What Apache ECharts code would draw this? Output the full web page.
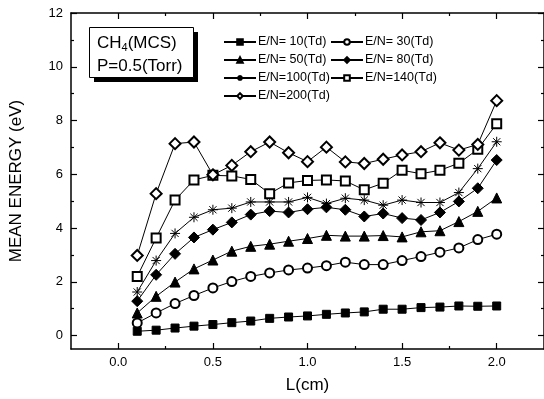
<!DOCTYPE html>
<html>
<head>
<meta charset="utf-8">
<script src="https://cdn.jsdelivr.net/npm/echarts@6/dist/echarts.min.js"></script>
<style>
  html, body { margin: 0; padding: 0; background: #fff; }
  #main { width: 544px; height: 399px; }
</style>
</head>
<body>
<div id="main"></div>
<script>
var L = [0.1, 0.2, 0.3, 0.4, 0.5, 0.6, 0.7, 0.8, 0.9, 1.0, 1.1, 1.2, 1.3, 1.4, 1.5, 1.6, 1.7, 1.8, 1.9, 2.0];
var en10 = [0.16, 0.20, 0.28, 0.35, 0.41, 0.48, 0.54, 0.64, 0.69, 0.73, 0.79, 0.84, 0.88, 0.98, 0.98, 1.04, 1.06, 1.10, 1.09, 1.10];
var en30 = [0.47, 0.84, 1.19, 1.49, 1.77, 2.01, 2.20, 2.33, 2.44, 2.51, 2.60, 2.73, 2.64, 2.64, 2.79, 2.94, 3.10, 3.26, 3.57, 3.77];
var en50 = [0.84, 1.46, 1.99, 2.48, 2.81, 3.14, 3.32, 3.40, 3.51, 3.61, 3.73, 3.70, 3.70, 3.72, 3.67, 3.86, 3.90, 4.24, 4.62, 5.12];
var en80 = [1.28, 2.26, 3.04, 3.65, 3.94, 4.21, 4.50, 4.63, 4.58, 4.70, 4.77, 4.68, 4.43, 4.54, 4.37, 4.30, 4.58, 4.99, 5.48, 6.53];
var en100 = [1.62, 2.79, 3.80, 4.40, 4.68, 4.74, 4.97, 4.97, 4.97, 5.14, 4.91, 5.11, 5.04, 4.85, 5.04, 4.95, 4.95, 5.32, 6.21, 7.21];
var en140 = [2.20, 3.63, 5.04, 5.79, 5.96, 5.94, 5.81, 5.28, 5.68, 5.77, 5.79, 5.75, 5.42, 5.67, 6.15, 6.02, 6.15, 6.41, 6.93, 7.88];
var en200 = [2.98, 5.28, 7.14, 7.20, 5.98, 6.33, 6.84, 7.20, 6.80, 6.47, 7.01, 6.46, 6.40, 6.56, 6.72, 6.84, 7.17, 6.90, 7.11, 8.74];

var xMajor = [0, 0.5, 1.0, 1.5, 2.0];
var xMinor = [0.25, 0.75, 1.25, 1.75];
var yMajor = [0, 2, 4, 6, 8, 10, 12];
var yMinor = [1, 3, 5, 7, 9, 11];

var chart = echarts.init(document.getElementById('main'));
var font = 'Arial, "Liberation Sans", sans-serif';
var star = 'path://M0,-5L0,5M-5,0L5,0M-3.6,-3.6L3.6,3.6M-3.6,3.6L3.6,-3.6';

function pairs(ys) {
  return L.map(function (x, i) { return [x, ys[i]]; });
}

function mkSeries(name, ys, symbol, size) {
  return {
    name: name,
    type: 'line',
    data: pairs(ys),
    symbol: symbol,
    symbolSize: size,
    xAxisIndex: 0,
    yAxisIndex: 0,
    lineStyle: { color: '#000', width: 1 },
    itemStyle: { color: '#000', borderColor: '#000', borderWidth: 1 },
    emphasis: { disabled: true },
    animation: false
  };
}

function xAx(pos, ticks, len, line, labels) {
  return {
    type: 'value', position: pos, min: -0.25, max: 2.25,
    axisLine: { show: line, onZero: false, lineStyle: { color: '#000', width: 1.5 } },
    axisTick: { show: true, inside: true, length: len, customValues: ticks, lineStyle: { color: '#000', width: 1.2 } },
    axisLabel: labels ? { show: true, customValues: ticks, margin: 7, color: '#000', fontSize: 13, fontFamily: font,
      formatter: function (v) { return v.toFixed(1); } } : { show: false },
    splitLine: { show: false }
  };
}
function yAx(pos, ticks, len, line, labels) {
  return {
    type: 'value', position: pos, min: -0.5, max: 12,
    axisLine: { show: line, onZero: false, lineStyle: { color: '#000', width: 1.5 } },
    axisTick: { show: true, inside: true, length: len, customValues: ticks, lineStyle: { color: '#000', width: 1.2 } },
    axisLabel: labels ? { show: true, customValues: ticks, margin: 8, color: '#000', fontSize: 13, fontFamily: font } : { show: false },
    splitLine: { show: false }
  };
}

var xAxes = [
  xAx('bottom', xMajor, 6, true, true),
  xAx('bottom', xMinor, 3, false, false),
  xAx('top', xMajor, 6, true, false),
  xAx('top', xMinor, 3, false, false)
];
xAxes[0].name = 'L(cm)';
xAxes[0].nameLocation = 'middle';
xAxes[0].nameGap = 28;
xAxes[0].nameTextStyle = { color: '#000', fontSize: 17, fontFamily: font };

var yAxes = [
  yAx('left', yMajor, 6, true, true),
  yAx('left', yMinor, 3, false, false),
  yAx('right', yMajor, 6, true, false),
  yAx('right', yMinor, 3, false, false)
];
yAxes[0].name = 'MEAN ENERGY (eV)';
yAxes[0].nameLocation = 'middle';
yAxes[0].nameGap = 46;
yAxes[0].nameTextStyle = { color: '#000', fontSize: 17, fontFamily: font };

var legendBase = {
  orient: 'vertical', top: 35, itemWidth: 32, itemHeight: 7, itemGap: 4,
  textStyle: { color: '#000', fontSize: 12.5, fontFamily: font, lineHeight: 14, padding: [0, 0, 0, -3] },
  selectedMode: false, padding: 0
};

var option = {
  backgroundColor: '#fff',
  animation: false,
  grid: { left: 71, top: 13, width: 473, height: 338 },
  xAxis: xAxes,
  yAxis: yAxes,
  legend: [
    Object.assign({}, legendBase, { left: 223, data: ['E/N= 10(Td)', 'E/N= 50(Td)', 'E/N=100(Td)', 'E/N=200(Td)'] }),
    Object.assign({}, legendBase, { left: 330, data: ['E/N= 30(Td)', 'E/N= 80(Td)', 'E/N=140(Td)'] })
  ],
  graphic: [
    { type: 'rect', left: 94, top: 32, shape: { width: 104, height: 50 }, style: { fill: '#000' }, z: 10 },
    { type: 'rect', left: 89, top: 27, shape: { width: 104, height: 50 }, style: { fill: '#fff', stroke: '#000', lineWidth: 1 }, z: 11 },
    {
      type: 'text', left: 97, top: 32, z: 12,
      style: {
        text: 'CH{sub|4}(MCS)\nP=0.5(Torr)',
        fill: '#000', fontSize: 17, fontFamily: font, lineHeight: 23,
        rich: { sub: { fontSize: 11, fontFamily: font, padding: [9, 0, 0, 0], lineHeight: 23 } }
      }
    }
  ],
  series: [
    mkSeries('E/N= 10(Td)', en10, 'rect', 8),
    mkSeries('E/N= 30(Td)', en30, 'emptyCircle', 9),
    mkSeries('E/N= 50(Td)', en50, 'triangle', 10),
    mkSeries('E/N= 80(Td)', en80, 'diamond', 11),
    mkSeries('E/N=100(Td)', en100, star, 10),
    mkSeries('E/N=140(Td)', en140, 'emptyRect', 9),
    mkSeries('E/N=200(Td)', en200, 'emptyDiamond', 11)
  ]
};
chart.setOption(option);
</script>
</body>
</html>
